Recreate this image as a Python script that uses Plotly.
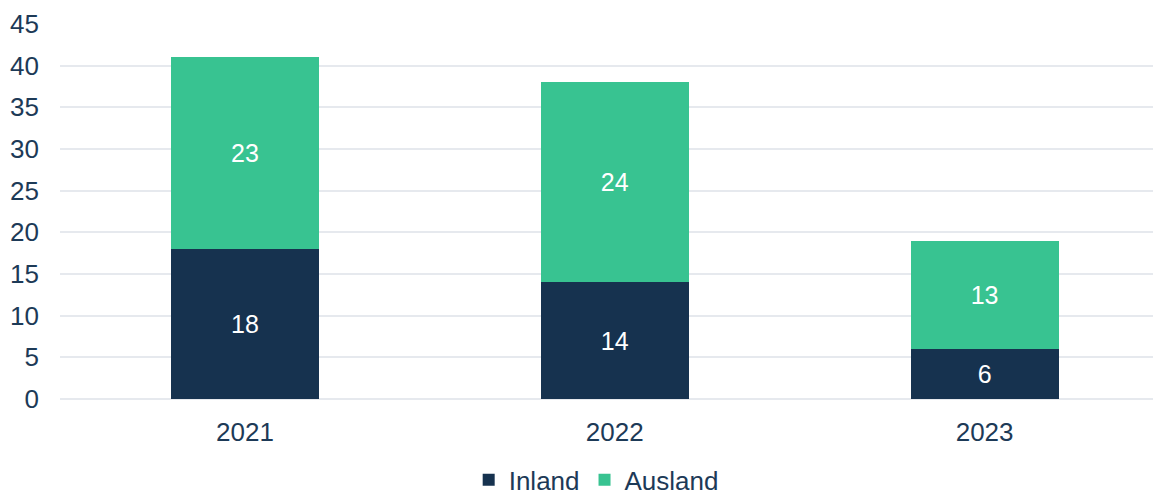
import plotly.graph_objects as go

years = ["2021", "2022", "2023"]
inland = [18, 14, 6]
ausland = [23, 24, 13]

navy = "#16324f"
green = "#38c391"
text_color = "#1d3a57"

fig = go.Figure()

fig.add_trace(go.Bar(
    x=years, y=inland, name="Inland",
    marker=dict(color=navy, line=dict(width=0)),
    text=inland, textposition="inside", insidetextanchor="middle",
    textfont=dict(color="white", size=25),
    width=0.4
))
fig.add_trace(go.Bar(
    x=years, y=ausland, name="Ausland",
    marker=dict(color=green, line=dict(width=0)),
    text=ausland, textposition="inside", insidetextanchor="middle",
    textfont=dict(color="white", size=25),
    width=0.4
))

# page body has an 8px margin, so the figure is a bit smaller than the window
fig.update_layout(
    barmode="stack",
    width=1153, height=488,
    margin=dict(l=52, r=0, t=16, b=97, autoexpand=False),
    paper_bgcolor="white", plot_bgcolor="white",
    font=dict(family="Liberation Sans, Arial, sans-serif", size=26, color=text_color),
    legend=dict(orientation="h", x=0.487, xanchor="center", y=-0.153, yanchor="top",
                font=dict(size=26), traceorder="normal", itemwidth=30),
    uniformtext=dict(mode="show", minsize=25),
)
fig.update_xaxes(range=[-0.5, 2.477], showgrid=False, showline=False, ticks="",
                 tickfont=dict(size=26), automargin=False, ticklabelstandoff=15)
fig.update_yaxes(range=[0, 45], dtick=5, showgrid=True, gridcolor="#e6e9ee", gridwidth=1.5,
                 zeroline=True, zerolinecolor="#e6e9ee", zerolinewidth=1.5,
                 ticklabelstandoff=20, tickfont=dict(size=26), automargin=False)

fig.write_html("out.html")
